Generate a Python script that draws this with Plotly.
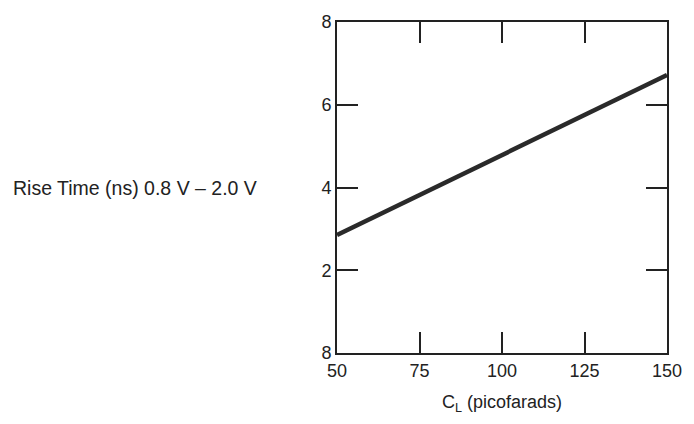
import plotly.graph_objects as go

cl_pf = [50, 150]
rise_ns = [2.85, 6.72]
x_ticks = [50, 75, 100, 125, 150]
x_ticklabels = ["50", "75", "100", "125", "150"]
y_ticks = [0, 2, 4, 6, 8]
y_ticklabels = ["8", "2", "4", "6", "8"]

ink = "#222222"
fam = "Liberation Sans, Arial, sans-serif"
font = dict(family=fam, size=18, color=ink)

fig = go.Figure()
fig.add_trace(go.Scatter(x=cl_pf, y=rise_ns, mode="lines",
                         line=dict(color="#2a2a2a", width=4.5), showlegend=False))

axis_common = dict(showgrid=False, zeroline=False, showline=True, linecolor=ink,
                   linewidth=2, mirror="allticks", ticks="inside", ticklen=21,
                   tickwidth=2, tickcolor=ink, tickfont=font)

fig.update_xaxes(range=[50, 150], tickvals=x_ticks, ticktext=x_ticklabels,
                 title=dict(text="C<sub>L</sub> (picofarads)", font=font, standoff=16),
                 **axis_common)
fig.update_yaxes(range=[0, 8], tickvals=y_ticks, ticktext=y_ticklabels, **axis_common)

fig.add_annotation(text="Rise Time (ns) 0.8 V \u2013 2.0 V", xref="paper", yref="paper",
                   x=-0.237, y=0.497, xanchor="right", yanchor="middle", showarrow=False,
                   font=dict(family=fam, size=19.5, color=ink))

fig.update_layout(width=694, height=424, margin=dict(l=337, r=24, t=17, b=71),
                  paper_bgcolor="white", plot_bgcolor="white")

fig.write_html("out.html", config={"displayModeBar": False},
               post_script="document.body.style.margin='0';")
